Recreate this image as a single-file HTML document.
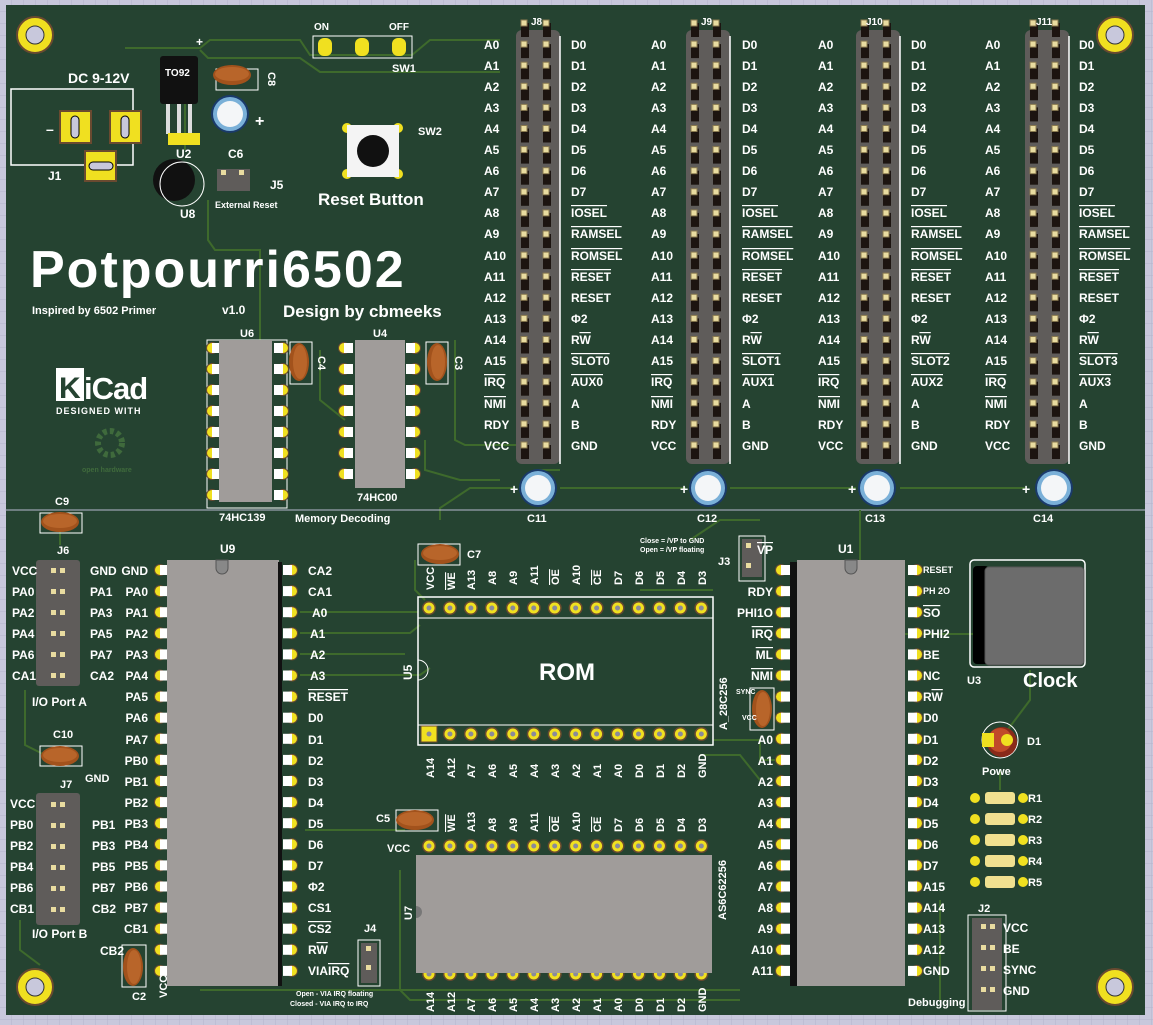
<!DOCTYPE html>
<html><head><meta charset="utf-8"><style>
html,body{margin:0;padding:0;background:#c9c9dd}
svg{display:block}
text{font-family:"Liberation Sans",sans-serif;fill:#fff;font-weight:bold}
.ov{text-decoration:overline}
</style></head><body>
<svg width="1153" height="1025" viewBox="0 0 1153 1025" xmlns="http://www.w3.org/2000/svg">
<defs>
<pattern id="grid" width="12" height="12" patternUnits="userSpaceOnUse"><rect width="12" height="12" fill="#c8c8dc"/><path d="M12 0V12H0" fill="none" stroke="#b4b4cc" stroke-width="1"/></pattern>
<g id="hp"><rect x="-4" y="-1" width="8" height="14" fill="#1c1410"/><rect x="-4" y="-4" width="6" height="6" fill="#e9dca0" stroke="#8a7a50" stroke-width="1"/></g>
<g id="hrow"><use href="#hp" x="9"/><use href="#hp" x="31"/></g>
<g id="hdr">
<rect x="0" y="6" width="44" height="434" rx="6" fill="#5f5c5a"/>
<line x1="44" y1="12" x2="44" y2="440" stroke="#fff" stroke-width="1.5"/>
<use href="#hrow" y="0"/><use href="#hrow" y="21.1"/><use href="#hrow" y="42.2"/><use href="#hrow" y="63.3"/><use href="#hrow" y="84.4"/><use href="#hrow" y="105.5"/><use href="#hrow" y="126.6"/><use href="#hrow" y="147.7"/><use href="#hrow" y="168.8"/><use href="#hrow" y="189.9"/><use href="#hrow" y="211"/><use href="#hrow" y="232.1"/><use href="#hrow" y="253.2"/><use href="#hrow" y="274.3"/><use href="#hrow" y="295.4"/><use href="#hrow" y="316.5"/><use href="#hrow" y="337.6"/><use href="#hrow" y="358.7"/><use href="#hrow" y="379.8"/><use href="#hrow" y="400.9"/><use href="#hrow" y="422"/>
</g>
<g id="pad"><circle r="7" fill="#6a4a30"/><circle r="5.5" fill="#f0e020"/><circle r="2.5" fill="#8a8a9a"/></g>
<g id="dpL"><circle r="6" fill="#6a4a30"/><circle r="5" fill="#f0e020"/><rect x="0" y="-5" width="9" height="10" fill="#fff"/></g>
<g id="dpR"><circle r="6" fill="#6a4a30"/><circle r="5" fill="#f0e020"/><rect x="-9" y="-5" width="9" height="10" fill="#fff"/></g>
<g id="dcolL"><use href="#dpL" y="0"/><use href="#dpL" y="21.1"/><use href="#dpL" y="42.2"/><use href="#dpL" y="63.3"/><use href="#dpL" y="84.4"/><use href="#dpL" y="105.5"/><use href="#dpL" y="126.6"/><use href="#dpL" y="147.7"/><use href="#dpL" y="168.8"/><use href="#dpL" y="189.9"/><use href="#dpL" y="211"/><use href="#dpL" y="232.1"/><use href="#dpL" y="253.2"/><use href="#dpL" y="274.3"/><use href="#dpL" y="295.4"/><use href="#dpL" y="316.5"/><use href="#dpL" y="337.6"/><use href="#dpL" y="358.7"/><use href="#dpL" y="379.8"/><use href="#dpL" y="400.9"/></g>
<g id="dcolR"><use href="#dpR" y="0"/><use href="#dpR" y="21.1"/><use href="#dpR" y="42.2"/><use href="#dpR" y="63.3"/><use href="#dpR" y="84.4"/><use href="#dpR" y="105.5"/><use href="#dpR" y="126.6"/><use href="#dpR" y="147.7"/><use href="#dpR" y="168.8"/><use href="#dpR" y="189.9"/><use href="#dpR" y="211"/><use href="#dpR" y="232.1"/><use href="#dpR" y="253.2"/><use href="#dpR" y="274.3"/><use href="#dpR" y="295.4"/><use href="#dpR" y="316.5"/><use href="#dpR" y="337.6"/><use href="#dpR" y="358.7"/><use href="#dpR" y="379.8"/><use href="#dpR" y="400.9"/></g>
<g id="prow14"><use href="#pad" x="0"/><use href="#pad" x="20.95"/><use href="#pad" x="41.9"/><use href="#pad" x="62.85"/><use href="#pad" x="83.8"/><use href="#pad" x="104.75"/><use href="#pad" x="125.7"/><use href="#pad" x="146.65"/><use href="#pad" x="167.6"/><use href="#pad" x="188.55"/><use href="#pad" x="209.5"/><use href="#pad" x="230.45"/><use href="#pad" x="251.4"/><use href="#pad" x="272.35"/></g>
<g id="cap"><ellipse rx="19" ry="10" fill="#a2521c"/><ellipse rx="17" ry="7" cy="-1" fill="#b8652a"/></g>
<g id="ecap"><circle r="19" fill="#1a3a6a"/><circle r="17" fill="#7ab0d8"/><circle r="13" fill="#f4f6f8"/></g>
<g id="mh"><circle r="18" fill="#f0e020" stroke="#6a4a30" stroke-width="2"/><circle r="9" fill="#c8c8dc" stroke="#333" stroke-width="1"/></g>
<g id="jp"><rect x="-9" y="-5" width="18" height="10" fill="#5f5c5a"/><rect x="-7" y="-4" width="5" height="5" fill="#e9dca0"/><rect x="2" y="-4" width="5" height="5" fill="#e9dca0"/></g>
</defs>
<rect width="1153" height="1025" fill="url(#grid)"/>
<rect x="6" y="5" width="1139" height="1010" fill="#254331"/>

<g fill="none" stroke="#3e6a2c" stroke-width="2">
<path d="M125 48H200L210 40H300L310 55H412L430 40H500"/>
<path d="M200 50L208 58H300L320 72H500"/>
<path d="M185 100V150"/>
<path d="M208 200V240L215 250H260V340"/>
<path d="M320 350V400L345 420"/>
<path d="M455 340V440L465 445H516"/>
<path d="M425 440V470L460 480H500"/>
<path d="M540 490V470L560 470"/>
<path d="M515 488H470L440 508V520"/>
<path d="M686 488H560"/>
<path d="M856 488H730"/>
<path d="M1025 488H900"/>
<path d="M5 510H1145" stroke="#b8b8d0" stroke-width="1"/>
<path d="M860 510V560"/>
<path d="M1030 670V700L1000 740"/>
<path d="M905 634H975"/>
<path d="M300 612H418"/>
<path d="M300 633H410L420 625"/>
<path d="M300 654H405"/>
<path d="M300 675H420L430 668"/>
<path d="M713 740H760V760H785"/>
<path d="M700 755H740L760 780"/>
<path d="M25 690V745L45 755"/>
<path d="M20 920V950L40 965"/>
<path d="M60 530V545"/>
<path d="M415 560V590L425 600"/>
<path d="M400 870V990L410 1000H740"/>
<path d="M305 830H405"/>
<path d="M760 520H720L690 540"/>
<path d="M640 590H713"/>
<path d="M200 990H740"/>
<path d="M940 900V1000"/>
<path d="M1000 770V790"/>
</g>

<use href="#mh" x="35" y="35"/><use href="#mh" x="1115" y="35"/>
<use href="#mh" x="35" y="987"/><use href="#mh" x="1115" y="987"/>

<rect x="11" y="89" width="122" height="76" fill="none" stroke="#fff" stroke-width="1.5"/>
<rect x="60" y="111" width="31" height="32" fill="#f0e020" stroke="#6a4a30" stroke-width="2"/><rect x="71" y="116" width="8" height="22" rx="4" fill="#c8c8dc" stroke="#000"/>
<rect x="110" y="111" width="31" height="32" fill="#f0e020" stroke="#6a4a30" stroke-width="2"/><rect x="121" y="116" width="8" height="22" rx="4" fill="#c8c8dc" stroke="#000"/>
<rect x="85" y="151" width="31" height="30" fill="#f0e020" stroke="#6a4a30" stroke-width="2"/><rect x="89" y="162" width="24" height="8" rx="4" fill="#c8c8dc" stroke="#000"/>
<text x="68" y="83" font-size="14">DC 9-12V</text>
<text x="46" y="134" font-size="14" font-weight="normal">–</text>
<text x="48" y="180" font-size="12" font-weight="normal">J1</text>
<text x="196" y="46" font-size="12">+</text>
<rect x="160" y="56" width="38" height="48" rx="3" fill="#111"/><text x="165" y="76" font-size="10" font-weight="normal" fill="#e0d890">TO92</text>
<rect x="166" y="104" width="4" height="30" fill="#ddd"/><rect x="177" y="104" width="4" height="30" fill="#ddd"/><rect x="188" y="104" width="4" height="30" fill="#ddd"/>
<rect x="168" y="133" width="32" height="12" fill="#f0e020"/>
<text x="176" y="158" font-size="12" font-weight="normal">U2</text>
<rect x="216" y="69" width="42" height="21" fill="none" stroke="#fff"/>
<use href="#cap" x="232" y="75"/>
<text x="268" y="72" font-size="11" font-weight="normal" transform="rotate(90 268 72)">C8</text>
<use href="#ecap" x="230" y="114"/><text x="255" y="126" font-size="16" font-weight="normal">+</text>
<text x="228" y="158" font-size="12" font-weight="normal">C6</text>
<circle cx="174" cy="180" r="21" fill="#111"/><circle cx="182" cy="184" r="22" fill="none" stroke="#fff"/>
<text x="180" y="218" font-size="12" font-weight="normal">U8</text>
<rect x="217" y="169" width="33" height="22" fill="#5f5c5a"/><rect x="221" y="170" width="5" height="5" fill="#e9dca0"/><rect x="239" y="170" width="5" height="5" fill="#e9dca0"/>
<text x="270" y="189" font-size="12" font-weight="normal">J5</text>
<text x="215" y="208" font-size="9" font-weight="normal">External Reset</text>
<text x="314" y="30" font-size="10" font-weight="normal">ON</text><text x="389" y="30" font-size="10" font-weight="normal">OFF</text>
<rect x="313" y="36" width="99" height="22" fill="none" stroke="#fff"/>
<rect x="318" y="38" width="14" height="18" rx="6" fill="#f0e020"/><rect x="355" y="38" width="14" height="18" rx="6" fill="#f0e020"/><rect x="392" y="38" width="14" height="18" rx="6" fill="#f0e020"/>
<text x="392" y="72" font-size="11" font-weight="normal">SW1</text>
<circle cx="347" cy="128" r="5" fill="#f0e020"/><circle cx="398" cy="128" r="5" fill="#f0e020"/><circle cx="347" cy="174" r="5" fill="#f0e020"/><circle cx="398" cy="174" r="5" fill="#f0e020"/>
<rect x="347" y="125" width="52" height="52" fill="#f4f4f4"/><circle cx="373" cy="151" r="16" fill="#111"/>
<text x="418" y="135" font-size="11" font-weight="normal">SW2</text>
<text x="318" y="205" font-size="17">Reset Button</text>

<text x="30" y="287" font-size="52" font-weight="normal" letter-spacing="2">Potpourri6502</text>
<text x="32" y="314" font-size="11">Inspired by 6502 Primer</text>
<text x="222" y="314" font-size="12" font-weight="normal">v1.0</text>
<text x="283" y="317" font-size="17">Design by cbmeeks</text>
<rect x="56" y="368" width="28" height="33" fill="#fff"/><text x="59" y="398" font-size="30" style="fill:#254331">K</text>
<text x="84" y="399" font-size="31" letter-spacing="-1">iCad</text>
<text x="56" y="414" font-size="9" letter-spacing="1">DESIGNED WITH</text>
<circle cx="110" cy="443" r="12" fill="none" stroke="#3f6a3c" stroke-width="6" stroke-dasharray="4 3"/>
<text x="82" y="472" font-size="7" font-weight="normal" style="fill:#3f6a3c">open hardware</text>

<!-- U6 U4 -->
<rect x="207" y="340" width="80" height="168" fill="none" stroke="#fff"/>
<use href="#dpL" x="212" y="348"/><use href="#dpL" x="212" y="369"/><use href="#dpL" x="212" y="390"/><use href="#dpL" x="212" y="411"/><use href="#dpL" x="212" y="432"/><use href="#dpL" x="212" y="453"/><use href="#dpL" x="212" y="474"/><use href="#dpL" x="212" y="495"/>
<rect x="219" y="340" width="53" height="162" fill="#a09c9a"/>
<use href="#dpR" x="283" y="348"/><use href="#dpR" x="283" y="369"/><use href="#dpR" x="283" y="390"/><use href="#dpR" x="283" y="411"/><use href="#dpR" x="283" y="432"/><use href="#dpR" x="283" y="453"/><use href="#dpR" x="283" y="474"/><use href="#dpR" x="283" y="495"/>
<text x="240" y="337" font-size="11" font-weight="normal">U6</text>
<text x="219" y="521" font-size="11" font-weight="normal">74HC139</text>
<rect x="290" y="342" width="22" height="42" fill="none" stroke="#fff"/><use href="#cap" transform="translate(299 362) rotate(90)"/>
<text x="318" y="356" font-size="11" font-weight="normal" transform="rotate(90 318 356)">C4</text>
<use href="#dpL" x="344" y="348"/><use href="#dpL" x="344" y="369"/><use href="#dpL" x="344" y="390"/><use href="#dpL" x="344" y="411"/><use href="#dpL" x="344" y="432"/><use href="#dpL" x="344" y="453"/><use href="#dpL" x="344" y="474"/>
<rect x="355" y="340" width="50" height="148" fill="#a09c9a"/>
<use href="#dpR" x="415" y="348"/><use href="#dpR" x="415" y="369"/><use href="#dpR" x="415" y="390"/><use href="#dpR" x="415" y="411"/><use href="#dpR" x="415" y="432"/><use href="#dpR" x="415" y="453"/><use href="#dpR" x="415" y="474"/>
<text x="373" y="337" font-size="11" font-weight="normal">U4</text>
<text x="357" y="501" font-size="11" font-weight="normal">74HC00</text>
<rect x="426" y="342" width="22" height="42" fill="none" stroke="#fff"/><use href="#cap" transform="translate(437 362) rotate(90)"/>
<text x="455" y="356" font-size="11" font-weight="normal" transform="rotate(90 455 356)">C3</text>
<text x="295" y="522" font-size="11" font-weight="normal">Memory Decoding</text>

<use href="#hdr" x="516" y="24"/><use href="#hdr" x="686" y="24"/><use href="#hdr" x="856" y="24"/><use href="#hdr" x="1025" y="24"/>
<text x="531" y="25" font-size="10" font-weight="normal">J8</text>
<text x="701" y="25" font-size="10" font-weight="normal">J9</text>
<text x="866" y="25" font-size="10" font-weight="normal">J10</text>
<text x="1036" y="25" font-size="10" font-weight="normal">J11</text>

<g font-size="12">
<text><tspan x="484" y="49">A0</tspan><tspan x="484" y="70">A1</tspan><tspan x="484" y="91">A2</tspan><tspan x="484" y="112">A3</tspan><tspan x="484" y="133">A4</tspan><tspan x="484" y="154">A5</tspan><tspan x="484" y="175">A6</tspan><tspan x="484" y="196">A7</tspan><tspan x="484" y="217">A8</tspan><tspan x="484" y="238">A9</tspan><tspan x="484" y="260">A10</tspan><tspan x="484" y="281">A11</tspan><tspan x="484" y="302">A12</tspan><tspan x="484" y="323">A13</tspan><tspan x="484" y="344">A14</tspan><tspan x="484" y="365">A15</tspan><tspan x="484" y="386" class="ov">IRQ</tspan><tspan x="484" y="408" class="ov">NMI</tspan><tspan x="484" y="429">RDY</tspan><tspan x="484" y="450">VCC</tspan></text>
<text><tspan x="571" y="49">D0</tspan><tspan x="571" y="70">D1</tspan><tspan x="571" y="91">D2</tspan><tspan x="571" y="112">D3</tspan><tspan x="571" y="133">D4</tspan><tspan x="571" y="154">D5</tspan><tspan x="571" y="175">D6</tspan><tspan x="571" y="196">D7</tspan><tspan x="571" y="217" class="ov">IOSEL</tspan><tspan x="571" y="238" class="ov">RAMSEL</tspan><tspan x="571" y="260" class="ov">ROMSEL</tspan><tspan x="571" y="281" class="ov">RESET</tspan><tspan x="571" y="302">RESET</tspan><tspan x="571" y="323">Φ2</tspan><tspan x="571" y="344">R<tspan class="ov">W</tspan></tspan><tspan x="571" y="365" class="ov">SLOT0</tspan><tspan x="571" y="386" class="ov">AUX0</tspan><tspan x="571" y="408">A</tspan><tspan x="571" y="429">B</tspan><tspan x="571" y="450">GND</tspan></text>
<text><tspan x="651" y="49">A0</tspan><tspan x="651" y="70">A1</tspan><tspan x="651" y="91">A2</tspan><tspan x="651" y="112">A3</tspan><tspan x="651" y="133">A4</tspan><tspan x="651" y="154">A5</tspan><tspan x="651" y="175">A6</tspan><tspan x="651" y="196">A7</tspan><tspan x="651" y="217">A8</tspan><tspan x="651" y="238">A9</tspan><tspan x="651" y="260">A10</tspan><tspan x="651" y="281">A11</tspan><tspan x="651" y="302">A12</tspan><tspan x="651" y="323">A13</tspan><tspan x="651" y="344">A14</tspan><tspan x="651" y="365">A15</tspan><tspan x="651" y="386" class="ov">IRQ</tspan><tspan x="651" y="408" class="ov">NMI</tspan><tspan x="651" y="429">RDY</tspan><tspan x="651" y="450">VCC</tspan></text>
<text><tspan x="742" y="49">D0</tspan><tspan x="742" y="70">D1</tspan><tspan x="742" y="91">D2</tspan><tspan x="742" y="112">D3</tspan><tspan x="742" y="133">D4</tspan><tspan x="742" y="154">D5</tspan><tspan x="742" y="175">D6</tspan><tspan x="742" y="196">D7</tspan><tspan x="742" y="217" class="ov">IOSEL</tspan><tspan x="742" y="238" class="ov">RAMSEL</tspan><tspan x="742" y="260" class="ov">ROMSEL</tspan><tspan x="742" y="281" class="ov">RESET</tspan><tspan x="742" y="302">RESET</tspan><tspan x="742" y="323">Φ2</tspan><tspan x="742" y="344">R<tspan class="ov">W</tspan></tspan><tspan x="742" y="365" class="ov">SLOT1</tspan><tspan x="742" y="386" class="ov">AUX1</tspan><tspan x="742" y="408">A</tspan><tspan x="742" y="429">B</tspan><tspan x="742" y="450">GND</tspan></text>
<text><tspan x="818" y="49">A0</tspan><tspan x="818" y="70">A1</tspan><tspan x="818" y="91">A2</tspan><tspan x="818" y="112">A3</tspan><tspan x="818" y="133">A4</tspan><tspan x="818" y="154">A5</tspan><tspan x="818" y="175">A6</tspan><tspan x="818" y="196">A7</tspan><tspan x="818" y="217">A8</tspan><tspan x="818" y="238">A9</tspan><tspan x="818" y="260">A10</tspan><tspan x="818" y="281">A11</tspan><tspan x="818" y="302">A12</tspan><tspan x="818" y="323">A13</tspan><tspan x="818" y="344">A14</tspan><tspan x="818" y="365">A15</tspan><tspan x="818" y="386" class="ov">IRQ</tspan><tspan x="818" y="408" class="ov">NMI</tspan><tspan x="818" y="429">RDY</tspan><tspan x="818" y="450">VCC</tspan></text>
<text><tspan x="911" y="49">D0</tspan><tspan x="911" y="70">D1</tspan><tspan x="911" y="91">D2</tspan><tspan x="911" y="112">D3</tspan><tspan x="911" y="133">D4</tspan><tspan x="911" y="154">D5</tspan><tspan x="911" y="175">D6</tspan><tspan x="911" y="196">D7</tspan><tspan x="911" y="217" class="ov">IOSEL</tspan><tspan x="911" y="238" class="ov">RAMSEL</tspan><tspan x="911" y="260" class="ov">ROMSEL</tspan><tspan x="911" y="281" class="ov">RESET</tspan><tspan x="911" y="302">RESET</tspan><tspan x="911" y="323">Φ2</tspan><tspan x="911" y="344">R<tspan class="ov">W</tspan></tspan><tspan x="911" y="365" class="ov">SLOT2</tspan><tspan x="911" y="386" class="ov">AUX2</tspan><tspan x="911" y="408">A</tspan><tspan x="911" y="429">B</tspan><tspan x="911" y="450">GND</tspan></text>
<text><tspan x="985" y="49">A0</tspan><tspan x="985" y="70">A1</tspan><tspan x="985" y="91">A2</tspan><tspan x="985" y="112">A3</tspan><tspan x="985" y="133">A4</tspan><tspan x="985" y="154">A5</tspan><tspan x="985" y="175">A6</tspan><tspan x="985" y="196">A7</tspan><tspan x="985" y="217">A8</tspan><tspan x="985" y="238">A9</tspan><tspan x="985" y="260">A10</tspan><tspan x="985" y="281">A11</tspan><tspan x="985" y="302">A12</tspan><tspan x="985" y="323">A13</tspan><tspan x="985" y="344">A14</tspan><tspan x="985" y="365">A15</tspan><tspan x="985" y="386" class="ov">IRQ</tspan><tspan x="985" y="408" class="ov">NMI</tspan><tspan x="985" y="429">RDY</tspan><tspan x="985" y="450">VCC</tspan></text>
<text><tspan x="1079" y="49">D0</tspan><tspan x="1079" y="70">D1</tspan><tspan x="1079" y="91">D2</tspan><tspan x="1079" y="112">D3</tspan><tspan x="1079" y="133">D4</tspan><tspan x="1079" y="154">D5</tspan><tspan x="1079" y="175">D6</tspan><tspan x="1079" y="196">D7</tspan><tspan x="1079" y="217" class="ov">IOSEL</tspan><tspan x="1079" y="238" class="ov">RAMSEL</tspan><tspan x="1079" y="260" class="ov">ROMSEL</tspan><tspan x="1079" y="281" class="ov">RESET</tspan><tspan x="1079" y="302">RESET</tspan><tspan x="1079" y="323">Φ2</tspan><tspan x="1079" y="344">R<tspan class="ov">W</tspan></tspan><tspan x="1079" y="365" class="ov">SLOT3</tspan><tspan x="1079" y="386" class="ov">AUX3</tspan><tspan x="1079" y="408">A</tspan><tspan x="1079" y="429">B</tspan><tspan x="1079" y="450">GND</tspan></text>
</g>

<use href="#ecap" x="538" y="488"/><text x="510" y="494" font-size="14" font-weight="normal">+</text><text x="527" y="522" font-size="11" font-weight="normal">C11</text>
<use href="#ecap" x="708" y="488"/><text x="680" y="494" font-size="14" font-weight="normal">+</text><text x="697" y="522" font-size="11" font-weight="normal">C12</text>
<use href="#ecap" x="877" y="488"/><text x="848" y="494" font-size="14" font-weight="normal">+</text><text x="865" y="522" font-size="11" font-weight="normal">C13</text>
<use href="#ecap" x="1054" y="488"/><text x="1022" y="494" font-size="14" font-weight="normal">+</text><text x="1033" y="522" font-size="11" font-weight="normal">C14</text>

<rect x="40" y="513" width="42" height="20" fill="none" stroke="#fff"/><use href="#cap" x="60" y="522"/><text x="55" y="505" font-size="11" font-weight="normal">C9</text>
<text x="57" y="554" font-size="11" font-weight="normal">J6</text>
<rect x="36" y="560" width="44" height="126" rx="3" fill="#5f5c5a"/>
<use href="#jp" x="58" y="572"/><use href="#jp" x="58" y="593"/><use href="#jp" x="58" y="614"/><use href="#jp" x="58" y="635"/><use href="#jp" x="58" y="656"/><use href="#jp" x="58" y="677"/>
<g font-size="12">
<text><tspan x="12" y="575">VCC</tspan><tspan x="12" y="596">PA0</tspan><tspan x="12" y="617">PA2</tspan><tspan x="12" y="638">PA4</tspan><tspan x="12" y="659">PA6</tspan><tspan x="12" y="680">CA1</tspan></text>
<text><tspan x="90" y="575">GND</tspan><tspan x="90" y="596">PA1</tspan><tspan x="90" y="617">PA3</tspan><tspan x="90" y="638">PA5</tspan><tspan x="90" y="659">PA7</tspan><tspan x="90" y="680">CA2</tspan></text>
<text x="32" y="706">I/O Port A</text>
</g>
<rect x="40" y="746" width="42" height="20" fill="none" stroke="#fff"/><use href="#cap" x="60" y="756"/><text x="53" y="738" font-size="11" font-weight="normal">C10</text>
<text x="60" y="788" font-size="11" font-weight="normal">J7</text><text x="85" y="782" font-size="11">GND</text>
<rect x="36" y="793" width="44" height="132" rx="3" fill="#5f5c5a"/>
<use href="#jp" x="58" y="806"/><use href="#jp" x="58" y="827"/><use href="#jp" x="58" y="848"/><use href="#jp" x="58" y="869"/><use href="#jp" x="58" y="890"/><use href="#jp" x="58" y="911"/>
<g font-size="12">
<text><tspan x="10" y="808">VCC</tspan><tspan x="10" y="829">PB0</tspan><tspan x="10" y="850">PB2</tspan><tspan x="10" y="871">PB4</tspan><tspan x="10" y="892">PB6</tspan><tspan x="10" y="913">CB1</tspan></text>
<text><tspan x="92" y="829">PB1</tspan><tspan x="92" y="850">PB3</tspan><tspan x="92" y="871">PB5</tspan><tspan x="92" y="892">PB7</tspan><tspan x="92" y="913">CB2</tspan></text>
<text x="32" y="938">I/O Port B</text>
</g>
<rect x="122" y="945" width="24" height="42" fill="none" stroke="#fff"/><use href="#cap" transform="translate(133 967) rotate(90)"/>
<text x="100" y="955" font-size="12">CB2</text><text x="132" y="1000" font-size="11" font-weight="normal">C2</text>

<text x="220" y="553" font-size="12" font-weight="normal">U9</text>
<use href="#dcolL" x="160" y="570"/>
<rect x="167" y="560" width="112" height="426" fill="#a09c9a"/>
<rect x="278" y="562" width="4" height="424" fill="#111"/>
<path d="M216 560v8a6 6 0 0 0 12 0v-8z" fill="#888" stroke="#555"/>
<use href="#dcolR" x="292" y="570"/>
<g font-size="12">
<text text-anchor="end"><tspan x="148" y="575">GND</tspan><tspan x="148" y="596">PA0</tspan><tspan x="148" y="617">PA1</tspan><tspan x="148" y="638">PA2</tspan><tspan x="148" y="659">PA3</tspan><tspan x="148" y="680">PA4</tspan><tspan x="148" y="701">PA5</tspan><tspan x="148" y="722">PA6</tspan><tspan x="148" y="744">PA7</tspan><tspan x="148" y="765">PB0</tspan><tspan x="148" y="786">PB1</tspan><tspan x="148" y="807">PB2</tspan><tspan x="148" y="828">PB3</tspan><tspan x="148" y="849">PB4</tspan><tspan x="148" y="870">PB5</tspan><tspan x="148" y="891">PB6</tspan><tspan x="148" y="912">PB7</tspan><tspan x="148" y="933">CB1</tspan></text>
<text x="167" y="998" font-size="11" transform="rotate(-90 167 998)">VCC</text>
<text><tspan x="308" y="575">CA2</tspan><tspan x="308" y="596">CA1</tspan><tspan x="312" y="617">A0</tspan><tspan x="310" y="638">A1</tspan><tspan x="310" y="659">A2</tspan><tspan x="310" y="680">A3</tspan><tspan x="308" y="701" class="ov">RESET</tspan><tspan x="308" y="722">D0</tspan><tspan x="308" y="744">D1</tspan><tspan x="308" y="765">D2</tspan><tspan x="308" y="786">D3</tspan><tspan x="308" y="807">D4</tspan><tspan x="308" y="828">D5</tspan><tspan x="308" y="849">D6</tspan><tspan x="308" y="870">D7</tspan><tspan x="308" y="891">Φ2</tspan><tspan x="308" y="912">CS1</tspan><tspan x="308" y="933" class="ov">CS2</tspan><tspan x="308" y="954">R<tspan class="ov">W</tspan></tspan><tspan x="308" y="975">VIA<tspan class="ov">IRQ</tspan></tspan></text>
</g>
<text x="364" y="932" font-size="11" font-weight="normal">J4</text>
<rect x="358" y="940" width="22" height="46" fill="none" stroke="#fff"/>
<rect x="361" y="943" width="16" height="40" fill="#5f5c5a"/><rect x="366" y="946" width="5" height="5" fill="#e9dca0"/><rect x="366" y="965" width="5" height="5" fill="#e9dca0"/>
<text x="296" y="996" font-size="7" font-weight="normal">Open  - VIA IRQ floating</text>
<text x="290" y="1006" font-size="7" font-weight="normal">Closed - VIA IRQ to IRQ</text>

<rect x="418" y="544" width="42" height="21" fill="none" stroke="#fff"/><use href="#cap" x="440" y="554"/><text x="467" y="558" font-size="11" font-weight="normal">C7</text>
<rect x="418" y="597" width="295" height="148" fill="none" stroke="#fff" stroke-width="1.5"/>
<line x1="418" y1="618" x2="713" y2="618" stroke="#fff"/><line x1="418" y1="725" x2="713" y2="725" stroke="#fff"/>
<path d="M418 660a10 10 0 0 1 0 20" fill="none" stroke="#fff"/>
<use href="#prow14" x="429" y="608"/><use href="#prow14" x="429" y="734"/>
<rect x="421" y="726" width="16" height="16" fill="#f0e020" stroke="#6a4a30"/><circle cx="429" cy="734" r="2.5" fill="#8a8a9a"/>
<text x="567" y="680" font-size="24" text-anchor="middle">ROM</text>
<text x="412" y="680" font-size="12" font-weight="normal" transform="rotate(-90 412 680)">U5</text>
<text x="727" y="730" font-size="11" font-weight="normal" transform="rotate(-90 727 730)">A_28C256</text>
<g font-size="11">
<text x="434" y="590" transform="rotate(-90 434 590)">VCC</text>
<text x="455" y="590" transform="rotate(-90 455 590)" class="ov">WE</text>
<text x="475" y="590" transform="rotate(-90 475 590)">A13</text>
<text x="496" y="585" transform="rotate(-90 496 585)">A8</text>
<text x="517" y="585" transform="rotate(-90 517 585)">A9</text>
<text x="538" y="585" transform="rotate(-90 538 585)">A11</text>
<text x="559" y="585" transform="rotate(-90 559 585)" class="ov">OE</text>
<text x="580" y="585" transform="rotate(-90 580 585)">A10</text>
<text x="601" y="585" transform="rotate(-90 601 585)" class="ov">CE</text>
<text x="622" y="585" transform="rotate(-90 622 585)">D7</text>
<text x="643" y="585" transform="rotate(-90 643 585)">D6</text>
<text x="664" y="585" transform="rotate(-90 664 585)">D5</text>
<text x="685" y="585" transform="rotate(-90 685 585)">D4</text>
<text x="706" y="585" transform="rotate(-90 706 585)">D3</text>
<text x="434" y="778" transform="rotate(-90 434 778)">A14</text>
<text x="455" y="778" transform="rotate(-90 455 778)">A12</text>
<text x="475" y="778" transform="rotate(-90 475 778)">A7</text>
<text x="496" y="778" transform="rotate(-90 496 778)">A6</text>
<text x="517" y="778" transform="rotate(-90 517 778)">A5</text>
<text x="538" y="778" transform="rotate(-90 538 778)">A4</text>
<text x="559" y="778" transform="rotate(-90 559 778)">A3</text>
<text x="580" y="778" transform="rotate(-90 580 778)">A2</text>
<text x="601" y="778" transform="rotate(-90 601 778)">A1</text>
<text x="622" y="778" transform="rotate(-90 622 778)">A0</text>
<text x="643" y="778" transform="rotate(-90 643 778)">D0</text>
<text x="664" y="778" transform="rotate(-90 664 778)">D1</text>
<text x="685" y="778" transform="rotate(-90 685 778)">D2</text>
<text x="706" y="778" transform="rotate(-90 706 778)">GND</text>
</g>

<rect x="396" y="810" width="42" height="21" fill="none" stroke="#fff"/><use href="#cap" x="415" y="820"/><text x="376" y="822" font-size="11" font-weight="normal">C5</text>
<text x="387" y="852" font-size="11">VCC</text>
<use href="#prow14" x="429" y="846"/><use href="#prow14" x="429" y="974"/>
<rect x="416" y="855" width="296" height="118" fill="#a09c9a"/>
<path d="M416 906a6 6 0 0 1 0 12z" fill="#777"/>
<text x="412" y="920" font-size="11" font-weight="normal" transform="rotate(-90 412 920)">U7</text>
<text x="726" y="920" font-size="11" font-weight="normal" transform="rotate(-90 726 920)">AS6C62256</text>
<g font-size="11">
<text x="455" y="832" transform="rotate(-90 455 832)" class="ov">WE</text>
<text x="475" y="832" transform="rotate(-90 475 832)">A13</text>
<text x="496" y="832" transform="rotate(-90 496 832)">A8</text>
<text x="517" y="832" transform="rotate(-90 517 832)">A9</text>
<text x="538" y="832" transform="rotate(-90 538 832)">A11</text>
<text x="559" y="832" transform="rotate(-90 559 832)" class="ov">OE</text>
<text x="580" y="832" transform="rotate(-90 580 832)">A10</text>
<text x="601" y="832" transform="rotate(-90 601 832)" class="ov">CE</text>
<text x="622" y="832" transform="rotate(-90 622 832)">D7</text>
<text x="643" y="832" transform="rotate(-90 643 832)">D6</text>
<text x="664" y="832" transform="rotate(-90 664 832)">D5</text>
<text x="685" y="832" transform="rotate(-90 685 832)">D4</text>
<text x="706" y="832" transform="rotate(-90 706 832)">D3</text>
<text x="434" y="1012" transform="rotate(-90 434 1012)">A14</text>
<text x="455" y="1012" transform="rotate(-90 455 1012)">A12</text>
<text x="475" y="1012" transform="rotate(-90 475 1012)">A7</text>
<text x="496" y="1012" transform="rotate(-90 496 1012)">A6</text>
<text x="517" y="1012" transform="rotate(-90 517 1012)">A5</text>
<text x="538" y="1012" transform="rotate(-90 538 1012)">A4</text>
<text x="559" y="1012" transform="rotate(-90 559 1012)">A3</text>
<text x="580" y="1012" transform="rotate(-90 580 1012)">A2</text>
<text x="601" y="1012" transform="rotate(-90 601 1012)">A1</text>
<text x="622" y="1012" transform="rotate(-90 622 1012)">A0</text>
<text x="643" y="1012" transform="rotate(-90 643 1012)">D0</text>
<text x="664" y="1012" transform="rotate(-90 664 1012)">D1</text>
<text x="685" y="1012" transform="rotate(-90 685 1012)">D2</text>
<text x="706" y="1012" transform="rotate(-90 706 1012)">GND</text>
</g>

<text x="640" y="543" font-size="7" font-weight="normal">Close = /VP to GND</text>
<text x="640" y="552" font-size="7" font-weight="normal">Open = /VP floating</text>
<rect x="739" y="536" width="26" height="45" fill="none" stroke="#fff"/>
<rect x="742" y="539" width="20" height="38" fill="#5f5c5a"/><rect x="746" y="543" width="5" height="5" fill="#e9dca0"/><rect x="746" y="563" width="5" height="5" fill="#e9dca0"/>
<text x="718" y="565" font-size="11">J3</text>

<rect x="750" y="688" width="24" height="42" fill="none" stroke="#fff"/><use href="#cap" transform="translate(762 709) rotate(90)"/>
<text x="742" y="720" font-size="7" font-weight="normal">VCC</text><text x="736" y="694" font-size="7" font-weight="normal">SYNC</text>
<use href="#dcolL" x="781" y="570"/>
<rect x="797" y="560" width="108" height="426" fill="#a09c9a"/>
<rect x="790" y="562" width="7" height="424" fill="#111"/>
<path d="M845 560v8a6 6 0 0 0 12 0v-8z" fill="#888" stroke="#555"/>
<use href="#dcolR" x="917" y="570"/>
<text x="838" y="553" font-size="12" font-weight="normal">U1</text>
<g font-size="12">
<text text-anchor="end"><tspan x="773" y="554" class="ov">VP</tspan><tspan x="773" y="596">RDY</tspan><tspan x="773" y="617">PHI1O</tspan><tspan x="773" y="638" class="ov">IRQ</tspan><tspan x="773" y="659" class="ov">ML</tspan><tspan x="773" y="680" class="ov">NMI</tspan><tspan x="773" y="744">A0</tspan><tspan x="773" y="765">A1</tspan><tspan x="773" y="786">A2</tspan><tspan x="773" y="807">A3</tspan><tspan x="773" y="828">A4</tspan><tspan x="773" y="849">A5</tspan><tspan x="773" y="870">A6</tspan><tspan x="773" y="891">A7</tspan><tspan x="773" y="912">A8</tspan><tspan x="773" y="933">A9</tspan><tspan x="773" y="954">A10</tspan><tspan x="773" y="975">A11</tspan></text>
<text font-size="9"><tspan x="923" y="573">RESET</tspan><tspan x="923" y="594">PH 2O</tspan></text>
<text><tspan x="923" y="617" class="ov">SO</tspan><tspan x="923" y="638">PHI2</tspan><tspan x="923" y="659">BE</tspan><tspan x="923" y="680">NC</tspan><tspan x="923" y="701">R<tspan class="ov">W</tspan></tspan><tspan x="923" y="722">D0</tspan><tspan x="923" y="744">D1</tspan><tspan x="923" y="765">D2</tspan><tspan x="923" y="786">D3</tspan><tspan x="923" y="807">D4</tspan><tspan x="923" y="828">D5</tspan><tspan x="923" y="849">D6</tspan><tspan x="923" y="870">D7</tspan><tspan x="923" y="891">A15</tspan><tspan x="923" y="912">A14</tspan><tspan x="923" y="933">A13</tspan><tspan x="923" y="954">A12</tspan><tspan x="923" y="975">GND</tspan></text>
</g>

<rect x="970" y="560" width="115" height="107" rx="4" fill="none" stroke="#fff" stroke-width="1.5"/>
<rect x="973" y="566" width="16" height="98" rx="4" fill="#000"/>
<rect x="985" y="567" width="99" height="98" rx="4" fill="#6c6c6c" stroke="#555"/>
<text x="967" y="684" font-size="11" font-weight="normal">U3</text>
<text x="1023" y="687" font-size="20">Clock</text>
<circle cx="1000" cy="740" r="18" fill="none" stroke="#fff"/>
<circle cx="1002" cy="742" r="15" fill="#8a2a1a"/><circle cx="1000" cy="740" r="12" fill="#c04a2a"/>
<rect x="982" y="733" width="12" height="14" fill="#f0e020"/><circle cx="1007" cy="740" r="6" fill="#f0e020"/>
<text x="1027" y="745" font-size="11" font-weight="normal">D1</text>
<text x="982" y="775" font-size="11" font-weight="normal">Powe</text>
<g>
<rect x="985" y="792" width="30" height="12" rx="3" fill="#f0e090"/><circle cx="975" cy="798" r="5" fill="#f0e020"/><circle cx="1023" cy="798" r="5" fill="#f0e020"/>
<rect x="985" y="813" width="30" height="12" rx="3" fill="#f0e090"/><circle cx="975" cy="819" r="5" fill="#f0e020"/><circle cx="1023" cy="819" r="5" fill="#f0e020"/>
<rect x="985" y="834" width="30" height="12" rx="3" fill="#f0e090"/><circle cx="975" cy="840" r="5" fill="#f0e020"/><circle cx="1023" cy="840" r="5" fill="#f0e020"/>
<rect x="985" y="855" width="30" height="12" rx="3" fill="#f0e090"/><circle cx="975" cy="861" r="5" fill="#f0e020"/><circle cx="1023" cy="861" r="5" fill="#f0e020"/>
<rect x="985" y="876" width="30" height="12" rx="3" fill="#f0e090"/><circle cx="975" cy="882" r="5" fill="#f0e020"/><circle cx="1023" cy="882" r="5" fill="#f0e020"/>
</g>
<g font-size="11" font-weight="normal"><text x="1028" y="802">R1</text><text x="1028" y="823">R2</text><text x="1028" y="844">R3</text><text x="1028" y="865">R4</text><text x="1028" y="886">R5</text></g>
<text x="978" y="912" font-size="11" font-weight="normal">J2</text>
<rect x="968" y="915" width="38" height="96" fill="none" stroke="#fff"/>
<rect x="972" y="918" width="30" height="92" fill="#5f5c5a"/>
<use href="#jp" x="988" y="928"/><use href="#jp" x="988" y="949"/><use href="#jp" x="988" y="970"/><use href="#jp" x="988" y="991"/>
<g font-size="12"><text x="1003" y="932">VCC</text><text x="1003" y="953">BE</text><text x="1003" y="974">SYNC</text><text x="1003" y="995">GND</text></g>
<text x="908" y="1006" font-size="11" font-weight="normal">Debugging</text>
</svg>
</body></html>
